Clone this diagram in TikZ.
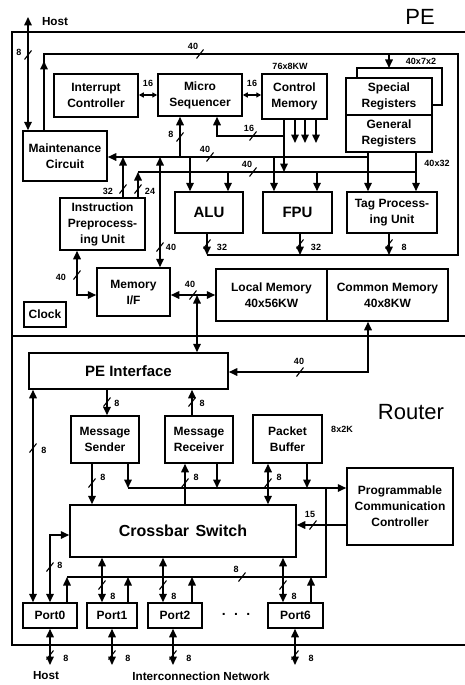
\documentclass[tikz,border=0pt]{standalone}
\usepackage{fontspec}
\setmainfont{Liberation Sans}
\usetikzlibrary{arrows.meta,calc}

\begin{document}
\begin{tikzpicture}[x=1pt, y=-1pt,
  blk/.style={draw, line width=1.5pt, align=center, inner sep=1pt,
    font=\bfseries\fontsize{12}{16}\selectfont},
  big/.style={font=\bfseries\fontsize{15}{18}\selectfont},
  bus/.style={line width=1.6pt, >={Triangle[length=8.5pt,width=7.5pt]}},
  sm/.style={>={Triangle[length=5pt,width=5pt]}},
  frame/.style={line width=2.4pt},
  lbl/.style={font=\bfseries\fontsize{9}{10}\selectfont, inner sep=0.5pt},
  txt/.style={font=\bfseries\fontsize{11.7}{14}\selectfont, inner sep=1pt},
  title/.style={font=\fontsize{22}{24}\selectfont, inner sep=0pt},
  cut/.pic={\draw[line width=1.1pt] (-3.5,4.5) -- (3.5,-4.5);}
]
\useasboundingbox (0,0) rectangle (465,685);
% outer frame, PE / Router
\draw[frame] (465,32) -- (12,32) -- (12,645) -- (465,645);
\draw[frame] (12,336) -- (465,336);
\node[title] (pe) at (420,17) {PE};
\node[title] (router) at (411,412) {Router};

% PE blocks
\node[blk, minimum width=84, minimum height=43] (intc) at (96,95.5) {Interrupt\\Controller};
\node[blk, minimum width=84, minimum height=42] (mseq) at (200,95) {Micro\\Sequencer};
\node[blk, minimum width=65, minimum height=45] (cmem) at (294.5,96.5) {Control\\Memory};
\node[lbl] (cmemsz) at (290,66) {76x8KW};
\node[blk, minimum width=86, minimum height=37] (sreg) at (389,96.5) {Special\\Registers};
\node[blk, minimum width=86, minimum height=37] (greg) at (389,133.5) {General\\Registers};
\node[blk, minimum width=84, minimum height=50] (mc) at (65,156) {Maintenance\\Circuit};
\node[blk, minimum width=85, minimum height=52] (ipu) at (102.5,224) {Instruction\\Preprocess-\\ing Unit};
\node[blk, big, minimum width=68, minimum height=41] (alu) at (209,212.5) {ALU};
\node[blk, big, minimum width=69, minimum height=41] (fpu) at (297.5,212.5) {FPU};
\node[blk, minimum width=90, minimum height=41] (tpu) at (392,212.5) {Tag Process-\\ing Unit};
\node[blk, minimum width=73, minimum height=48] (mif) at (133.5,292) {Memory\\I/F};
\node[blk, minimum width=111, minimum height=52] (lmem) at (271.5,295) {Local Memory\\40x56KW};
\node[blk, minimum width=121, minimum height=52] (cmm) at (387.5,295) {Common Memory\\40x8KW};
\node[blk, minimum width=42, minimum height=25] (clk) at (45,314.5) {Clock};

% host line
\node[txt] (hosttop) at (55,22) {Host};
\draw[bus,<->] (mc.north -| 28,0) -- (28,17);
\pic at (28,55) {cut}; \node[lbl] at (19,52) {8};

% 40 loop
\draw[bus,->] (mc.north -| 44,0) -- (44,61);
\draw[bus] (44,64) -- (44,54) -- (458,54) -- (458,255) -- (207,255);
\pic at (200,54) {cut}; \node[lbl] at (193,46) {40};
\draw[bus,->] (389,54) -- (389,68);
\draw[bus] (sreg.north -| 357,0) -- (357,68) -- (442,68) -- (442,105) -- (sreg.east |- 0,105);
\node[lbl] at (421,61) {40x7x2};

% sequencer links
\draw[bus,sm,<->] (intc.east |- 0,95) -- (mseq.west |- 0,95);
\node[lbl] at (148,83) {16};
\draw[bus,sm,<->] (mseq.east |- 0,95) -- (cmem.west |- 0,95);
\node[lbl] at (252,83) {16};
\foreach \x in {295,305,316}
  \draw[bus,->] (cmem.south -| \x,0) -- (\x,143);
\draw[bus,->] (cmem.south -| 284,0) -- (284,172);
\draw[bus,->] (284,136) -- (217,136) -- (mseq.south -| 217,0);
\pic at (253,136) {cut}; \node[lbl] at (249,128) {16};
\draw[bus,->] (180,157) -- (mseq.south -| 180,0);
\pic at (180,137) {cut}; \node[lbl] at (171,134) {8};

% internal buses
\draw[bus,->] (368,157) -- (mc.east |- 0,157);
\pic at (210,157) {cut}; \node[lbl] at (205,149) {40};
\draw[bus] (138,172) -- (416,172);
\pic at (253,172) {cut}; \node[lbl] at (247,164) {40};
\draw[bus,->] (greg.south -| 368,0) -- (tpu.north -| 368,0);
\draw[bus,->] (greg.south -| 416,0) -- (tpu.north -| 416,0);
\node[lbl] at (437,163) {40x32};
\draw[bus,->] (190,157) -- (alu.north -| 190,0);
\draw[bus,->] (228,172) -- (alu.north -| 228,0);
\draw[bus,->] (274,157) -- (fpu.north -| 274,0);
\draw[bus,->] (317,172) -- (fpu.north -| 317,0);

% unit outputs to loop
\draw[bus,->] (alu.south -| 207,0) -- (207,255);
\pic at (207,244) {cut}; \node[lbl] at (222,247) {32};
\draw[bus,->] (fpu.south -| 300,0) -- (300,255);
\pic at (300,244) {cut}; \node[lbl] at (316,247) {32};
\draw[bus,->] (tpu.south -| 389,0) -- (389,255);
\pic at (389,244) {cut}; \node[lbl] at (404,247) {8};

% instruction preprocessing
\draw[bus,->] (ipu.north -| 123,0) -- (123,157);
\pic at (123,189) {cut}; \node[lbl] at (108,191) {32};
\draw[bus,->] (ipu.north -| 138,0) -- (138,172);
\pic at (138,189) {cut}; \node[lbl] at (150,191) {24};
\draw[bus,<->] (mif.north -| 160,0) -- (160,157);
\pic at (160,247) {cut}; \node[lbl] at (171,247) {40};
\draw[bus,<->] (ipu.south -| 77,0) -- (77,295) -- (mif.west |- 0,295);
\pic at (77,275) {cut}; \node[lbl] at (61,277) {40};

% memories
\draw[bus,<->] (mif.east |- 0,295) -- (lmem.west |- 0,295);
\pic at (193,295) {cut}; \node[lbl] at (190,284) {40};

% Router blocks
\node[blk, big, minimum width=199, minimum height=36] (pei) at (128.5,371) {PE Interface};
\node[blk, minimum width=68, minimum height=47] (msend) at (105,439.5) {Message\\Sender};
\node[blk, minimum width=68, minimum height=47] (mrecv) at (199,439.5) {Message\\Receiver};
\node[blk, minimum width=69, minimum height=48] (pbuf) at (287.5,439) {Packet\\Buffer};
\node[lbl] (pbufsz) at (342,429) {8x2K};
\node[blk, minimum width=106, minimum height=77] (pcc) at (400,506.5) {Programmable\\Communication\\Controller};
\node[blk, font=\bfseries\fontsize{16}{18}\selectfont, minimum width=226, minimum height=52] (xbar) at (183,531) {Crossbar\hspace{0.4em}Switch};
\node[blk, minimum width=54, minimum height=25] (port0) at (50,615.5) {Port0};
\node[blk, minimum width=50, minimum height=25] (port1) at (112,615.5) {Port1};
\node[blk, minimum width=54, minimum height=25] (port2) at (175,615.5) {Port2};
\node[blk, minimum width=55, minimum height=25] (port6) at (295.5,615.5) {Port6};
\node[font=\bfseries\fontsize{14}{14}\selectfont] (dots) at (236,614) {.\hspace{0.6em}.\hspace{0.6em}.};

% PE <-> Router
\draw[bus,<->] (197,295) -- (pei.north -| 197,0);
\draw[bus,<->] (cmm.south -| 368,0) -- (368,372) -- (pei.east |- 0,372);
\pic at (300,372) {cut}; \node[lbl] at (299,361) {40};

% PE interface
\draw[bus,->] (pei.south -| 107,0) -- (msend.north -| 107,0);
\pic at (107,402) {cut}; \node[lbl] at (117,403) {8};
\draw[bus,->] (mrecv.north -| 192,0) -- (pei.south -| 192,0);
\pic at (192,402) {cut}; \node[lbl] at (202,403) {8};
\draw[bus,<->] (pei.south -| 33,0) -- (port0.north -| 33,0);
\pic at (33,448) {cut}; \node[lbl] at (44,450) {8};

% message bus
\draw[bus,->] (msend.south -| 92,0) -- (xbar.north -| 92,0);
\pic at (92,483) {cut}; \node[lbl] at (103,477) {8};
\draw[bus,->] (msend.south -| 128,0) -- (128,488);
\draw[bus,->] (128,488) -- (pcc.west |- 0,488);
\draw[bus,->] (xbar.north -| 185,0) -- (mrecv.south -| 185,0);
\pic at (185,483) {cut}; \node[lbl] at (196,477) {8};
\draw[bus,->] (mrecv.south -| 217,0) -- (217,488);
\draw[bus,<->] (pbuf.south -| 268,0) -- (xbar.north -| 268,0);
\pic at (268,483) {cut}; \node[lbl] at (279,477) {8};
\draw[bus,->] (pbuf.south -| 307,0) -- (307,488);
\draw[bus,->] (pcc.west |- 0,525) -- (xbar.east |- 0,525);
\pic at (313,525) {cut}; \node[lbl] at (310,514) {15};

% ports
\draw[bus,<->] (port0.north -| 50,0) -- (50,535) -- (xbar.west |- 0,535);
\pic at (50,567) {cut}; \node[lbl] at (60,565) {8};
\draw[bus] (67,577) -- (326,577) -- (326,488);
\pic at (242,577) {cut}; \node[lbl] at (236,569) {8};
\foreach \p/\x in {port0/67, port1/128, port2/192, port6/311}
  \draw[bus,->] (\p.north -| \x,0) -- (\x,577);
\foreach \p/\x in {port1/102, port2/163, port6/283} {
  \draw[bus,<->] (\p.north -| \x,0) -- (xbar.south -| \x,0);
  \pic at (\x,585) {cut}; \node[lbl] at (\x+11,596) {8};
}
\foreach \p/\x in {port0/50, port1/112, port2/173, port6/295} {
  \draw[bus,<->] (\p.south -| \x,0) -- (\x,665);
  \pic at (\x,655) {cut}; \node[lbl] at (\x+16,658) {8};
}
\node[txt] (hostbot) at (46,676) {Host};
\node[txt] (icn) at (201,676) {Interconnection Network};
\end{tikzpicture}
\end{document}
